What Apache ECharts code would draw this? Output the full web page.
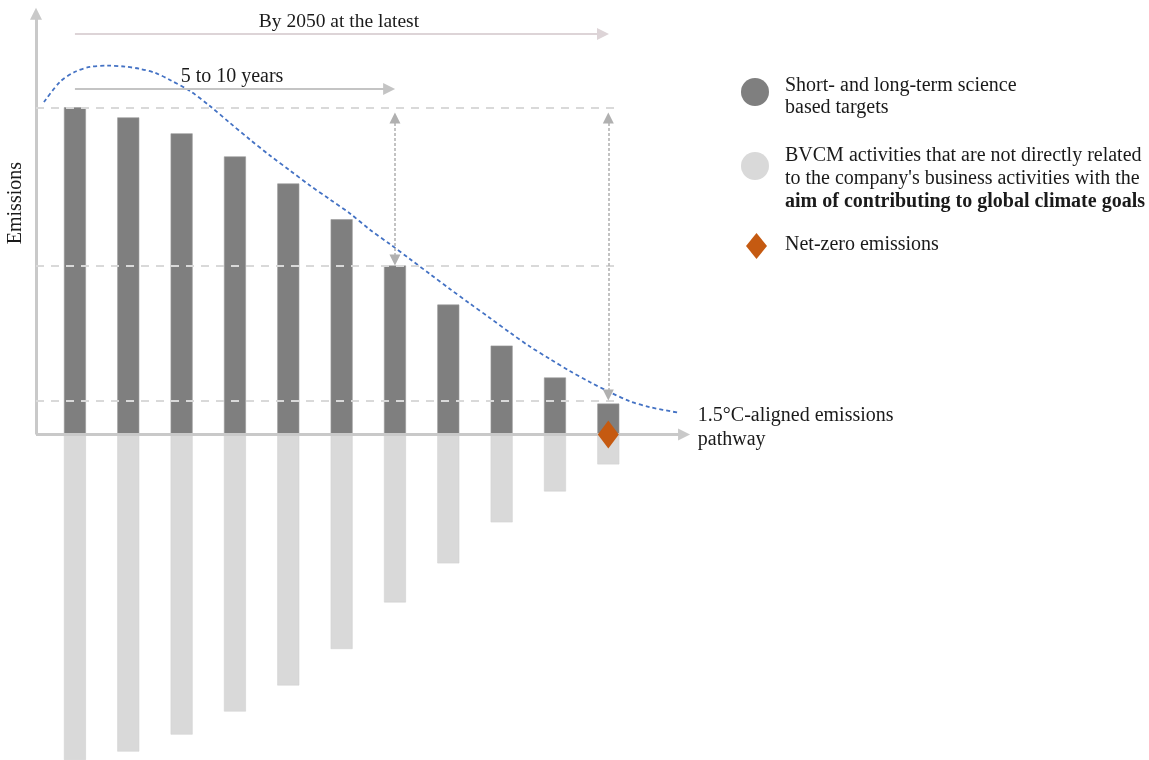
<!DOCTYPE html>
<html>
<head>
<meta charset="utf-8">
<script src="https://cdn.jsdelivr.net/npm/echarts@6/dist/echarts.min.js"></script>
<style>
  html, body { margin: 0; padding: 0; background: #fff; }
  #chart { width: 1149px; height: 760px; }
</style>
</head>
<body>
<div id="chart"></div>
<script>
// ---- data ----
const barPositions = [0, 1, 2, 3, 4, 5, 6, 7, 8, 9, 10];
const targetValues = [100.5, 97.4, 92.5, 85.4, 77.1, 66.1, 51.9, 39.9, 27.3, 17.5, 9.5];
const bvcmValues = [-100, -97.4, -92.2, -85.1, -77.1, -65.9, -51.6, -39.6, -27.0, -17.5, -9.2];
const pathwayX = [-0.581, -0.281, 0, 0.281, 0.619, 0.937, 1.218, 1.5, 1.781, 2.156, 2.53, 2.905, 3.28, 3.655, 4.03, 4.405, 4.78, 5.155, 5.53, 5.904, 6.279, 6.654, 7.029, 7.404, 7.779, 8.154, 8.529, 8.903, 9.278, 9.653, 10.028, 10.403, 10.778, 11.34];
const pathwayY = [102.1, 108.3, 111.4, 112.9, 113.3, 113.0, 112.3, 111.1, 108.9, 105.5, 100.9, 95.7, 90.6, 85.7, 81.1, 76.5, 72.2, 67.9, 62.9, 58.5, 53.9, 49.3, 44.7, 40.2, 35.8, 31.3, 27.0, 23.2, 19.5, 16.1, 13.0, 10.2, 8.4, 6.6];
const netZeroPoint = [10, 0];
const referenceLevels = [100.3, 51.7, 10.3];
const timeArrows = [
  { label: 'By 2050 at the latest', from: 0, to: 9.9, level: 123.0 },
  { label: '5 to 10 years', from: 0, to: 5.89, level: 106.1 }
];
const gapArrows = [
  { x: 6, top: 97.2, bottom: 53.6 },
  { x: 10, top: 97.2, bottom: 12.1 }
];
const seriesNames = {
  targets: 'Short- and long-term science based targets',
  bvcm: 'BVCM activities',
  netZero: 'Net-zero emissions',
  pathway: '1.5°C-aligned emissions pathway'
};

const FONT = '"Liberation Serif", "Times New Roman", serif';
const axisX0 = -0.73;

const chart = echarts.init(document.getElementById('chart'), null, { renderer: 'canvas' });

const markData = [];
// y axis
markData.push([
  { coord: [axisX0, 0], symbol: 'none' },
  { coord: [axisX0, 129.2], symbol: 'triangle', symbolSize: [12, 12],
    lineStyle: { color: '#c9c9c9', width: 3, type: 'solid' } }
]);
// x axis
markData.push([
  { coord: [axisX0, 0], symbol: 'none' },
  { coord: [11.42, 0], symbol: 'triangle', symbolSize: [12, 12],
    lineStyle: { color: '#c9c9c9', width: 3, type: 'solid' } }
]);
referenceLevels.forEach(lv => {
  markData.push([
    { coord: [axisX0, lv], symbol: 'none' },
    { coord: [10.22, lv], symbol: 'none',
      lineStyle: { color: '#d9d9d9', width: 2, type: [8, 7] } }
  ]);
});
timeArrows.forEach((a, i) => {
  markData.push([
    { coord: [a.from, a.level], symbol: 'none' },
    { coord: [a.to, a.level], symbol: 'triangle', symbolSize: [12, 12],
      lineStyle: { color: i === 0 ? '#ddd4d7' : '#c4c4c4', width: 2, type: 'solid' },
      label: { show: true, position: 'middle', formatter: a.label, distance: 2,
        color: '#1a1a1a', fontFamily: FONT, fontSize: i === 0 ? 19.5 : 20 } }
  ]);
});
gapArrows.forEach(g => {
  markData.push([
    { coord: [g.x, g.top], symbol: 'triangle', symbolSize: [11, 11] },
    { coord: [g.x, g.bottom], symbol: 'triangle', symbolSize: [11, 11],
      lineStyle: { color: '#b0b0b0', width: 1.5, type: [3, 2] } }
  ]);
});

const option = {
  animation: false,
  backgroundColor: '#ffffff',
  grid: { left: 36, top: 8, width: 679, height: 752, containLabel: false },
  xAxis: { type: 'value', min: axisX0, max: 12, show: false },
  yAxis: { type: 'value', min: -100, max: 131, show: false },
  series: [
    {
      name: seriesNames.targets,
      type: 'bar',
      barWidth: 22,
      barGap: '-100%',
      itemStyle: { color: '#7f7f7f', borderColor: '#9a9a9a', borderWidth: 0.6 },
      data: barPositions.map((x, i) => [x, targetValues[i]]),
      z: 3
    },
    {
      name: seriesNames.bvcm,
      type: 'bar',
      barWidth: 22,
      barGap: '-100%',
      itemStyle: { color: '#d9d9d9', borderColor: '#d2d2d2', borderWidth: 0.6 },
      data: barPositions.map((x, i) => [x, bvcmValues[i]]),
      z: 3
    },
    {
      name: 'annotations',
      type: 'line',
      data: [],
      silent: true,
      z: 2,
      markLine: {
        silent: true,
        animation: false,
        symbol: ['none', 'triangle'],
        label: { show: false },
        itemStyle: { color: '#b5aeb1' },
        emphasis: { disabled: true },
        data: markData
      }
    },
    {
      name: seriesNames.pathway,
      type: 'line',
      smooth: 0.3,
      showSymbol: false,
      symbol: 'none',
      lineStyle: { color: '#4472c4', width: 1.8, type: [4, 3] },
      data: pathwayX.map((x, i) => [x, pathwayY[i]]),
      endLabel: {
        show: true,
        formatter: '1.5°C-aligned emissions\npathway',
        distance: 18,
        offset: [0, 15],
        lineHeight: 24,
        align: 'left',
        color: '#1a1a1a',
        fontFamily: FONT,
        fontSize: 20
      },
      z: 4
    },
    {
      name: seriesNames.netZero,
      type: 'scatter',
      symbol: 'diamond',
      symbolSize: [21, 28],
      itemStyle: { color: '#c55a11', opacity: 1 },
      data: [netZeroPoint],
      z: 5
    }
  ],
  graphic: [
    { type: 'text', left: 6, top: 162, rotation: Math.PI / 2,
      style: { text: 'Emissions', font: '20px ' + FONT, fill: '#1a1a1a' } },
    { type: 'circle', shape: { cx: 755, cy: 92, r: 14 }, style: { fill: '#7f7f7f' } },
    { type: 'text', x: 785, y: 75,
      style: { text: 'Short- and long-term science\nbased targets', font: '20px ' + FONT,
        fill: '#1a1a1a', lineHeight: 22, verticalAlign: 'top' } },
    { type: 'circle', shape: { cx: 755, cy: 166, r: 14 }, style: { fill: '#d9d9d9' } },
    { type: 'text', x: 785, y: 144,
      style: {
        text: 'BVCM activities that are not directly related\nto the company\'s business activities with the\n{b|aim of contributing to global climate goals}',
        font: '20px ' + FONT, fill: '#1a1a1a', lineHeight: 23, verticalAlign: 'top',
        rich: { b: { fontWeight: 'bold', fontFamily: FONT, fontSize: 20, fill: '#1a1a1a', lineHeight: 23 } }
      } },
    { type: 'polygon', shape: { points: [[756.5, 233], [767, 246], [756.5, 259], [746, 246]] },
      style: { fill: '#c55a11' } },
    { type: 'text', x: 785, y: 234,
      style: { text: 'Net-zero emissions', font: '20px ' + FONT, fill: '#1a1a1a',
        lineHeight: 22, verticalAlign: 'top' } }
  ]
};

chart.setOption(option);
</script>
</body>
</html>
